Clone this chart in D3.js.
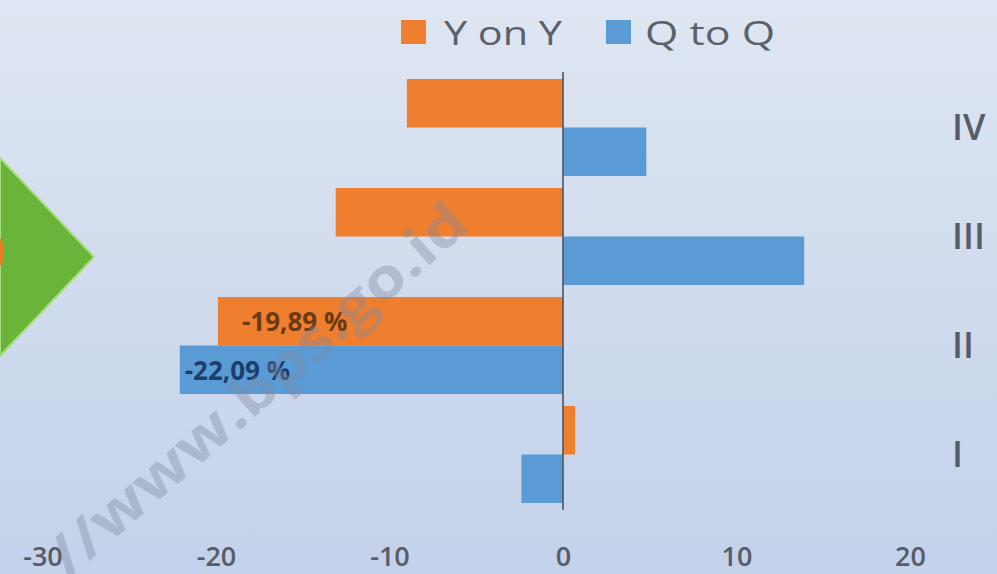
<!DOCTYPE html>
<html>
<head>
<meta charset="utf-8">
<script src="https://cdn.jsdelivr.net/npm/d3@7"></script>
<style>
  html, body { margin: 0; padding: 0; background: #d4ddee; }
  svg { display: block; }
</style>
</head>
<body>
<svg id="chart" width="997" height="574"></svg>
<script>
// Quarters, listed top to bottom as shown
const quarters = ["IV", "III", "II", "I"];
const seriesNames = ["Y on Y", "Q to Q"];
// Growth (%) per quarter
const yOnY = { "I": 0.7, "II": -19.89, "III": -13.1, "IV": -9.0 };
const qToQ = { "I": -2.4, "II": -22.09, "III": 13.9, "IV": 4.8 };
const xTicks = [-30, -20, -10, 0, 10, 20];
// Values that carry a printed label
const labelled = [
  { quarter: "II", series: "Y on Y", value: -19.89, text: "-19,89 %" },
  { quarter: "II", series: "Q to Q", value: -22.09, text: "-22,09 %" }
];

const colors = { "Y on Y": "#ef7f2f", "Q to Q": "#5a9bd6" };
const labelColors = { "Y on Y": "#6a3a12", "Q to Q": "#1d3d6a" };
const textGray = "#575d68";

const svg = d3.select("#chart");
const W = 997, H = 574;

// Soft blue backdrop
const defs = svg.append("defs");
const grad = defs.append("linearGradient").attr("id", "bg")
  .attr("x1", 0).attr("y1", 0).attr("x2", 0).attr("y2", 1);
grad.append("stop").attr("offset", "0%").attr("stop-color", "#dfe6f2");
grad.append("stop").attr("offset", "100%").attr("stop-color", "#c3d1ea");
svg.append("rect").attr("width", W).attr("height", H).attr("fill", "url(#bg)");

// Green arrow decoration at the left edge
svg.append("path")
  .attr("d", "M0,158 L94,257 L0,356 Z")
  .attr("fill", "#6ab43a")
  .attr("stroke", "#a6dd7e").attr("stroke-width", 2);
svg.append("circle").attr("cx", -24).attr("cy", 252).attr("r", 28).attr("fill", "#e97b28");

// Scales
const x = d3.scaleLinear().domain([-30, 20]).range([42.5, 910]);
const y = d3.scaleBand().domain(quarters).range([73, 509]).paddingInner(0.11).paddingOuter(0.055);
const ySub = d3.scaleBand().domain(seriesNames).range([0, y.bandwidth()]);

const rows = [];
quarters.forEach(q => {
  rows.push({ quarter: q, series: "Y on Y", value: yOnY[q] });
  rows.push({ quarter: q, series: "Q to Q", value: qToQ[q] });
});

// Bars
svg.append("g").selectAll("rect").data(rows).join("rect")
  .attr("x", d => x(Math.min(0, d.value)))
  .attr("y", d => y(d.quarter) + ySub(d.series))
  .attr("width", d => Math.abs(x(d.value) - x(0)))
  .attr("height", ySub.bandwidth())
  .attr("fill", d => colors[d.series]);

// Zero line
svg.append("line")
  .attr("x1", x(0)).attr("x2", x(0))
  .attr("y1", 72).attr("y2", 510)
  .attr("stroke", "#4b5566").attr("stroke-width", 1.6);

// Value labels
const labelOffset = { "Y on Y": 24, "Q to Q": 5 };
svg.append("g").selectAll("text").data(labelled).join("text")
  .attr("x", d => x(d.value) + labelOffset[d.series])
  .attr("y", d => y(d.quarter) + ySub(d.series) + ySub.bandwidth() / 2)
  .attr("dy", "0.38em")
  .attr("font-family", "'Open Sans', sans-serif")
  .attr("font-weight", 700)
  .attr("font-size", 26)
  .attr("fill", d => labelColors[d.series])
  .text(d => d.text);

// Bottom value axis
const xAxis = d3.axisBottom(x).tickValues(xTicks).tickSize(0).tickFormat(d => String(d));
const gx = svg.append("g").attr("transform", "translate(0,556)").call(xAxis);
gx.select(".domain").remove();
gx.selectAll("text")
  .attr("y", 0).attr("dy", "0.36em")
  .attr("font-family", "'Open Sans', sans-serif")
  .attr("font-weight", 600)
  .attr("font-size", 27)
  .attr("fill", textGray);

// Quarter labels on the right
const yAxis = d3.axisRight(y).tickSize(0).tickPadding(0);
const gy = svg.append("g").attr("transform", "translate(952,0)").call(yAxis);
gy.select(".domain").remove();
gy.selectAll("text")
  .attr("x", 0).attr("dy", "0.36em")
  .attr("text-anchor", "start")
  .attr("font-family", "'Open Sans', sans-serif")
  .attr("font-weight", 600)
  .attr("font-size", 36)
  .attr("fill", textGray);

// Legend
const legendItems = [
  { name: "Y on Y", sx: 401, tx: 444, w: 118 },
  { name: "Q to Q", sx: 606, tx: 645, w: 130 }
];
const lg = svg.append("g");
lg.selectAll("rect").data(legendItems).join("rect")
  .attr("x", d => d.sx).attr("y", 20).attr("width", 25).attr("height", 24)
  .attr("fill", d => colors[d.name]);
lg.selectAll("text").data(legendItems).join("text")
  .attr("x", d => d.tx).attr("y", 45)
  .attr("textLength", d => d.w).attr("lengthAdjust", "spacingAndGlyphs")
  .attr("font-family", "'Open Sans', sans-serif")
  .attr("font-size", 33)
  .attr("fill", "#5b616c")
  .text(d => d.name);

// Site watermark (the visible tail of the address)
svg.append("text")
  .attr("transform", "translate(472,228) rotate(-41)")
  .attr("text-anchor", "end")
  .attr("textLength", 535).attr("lengthAdjust", "spacingAndGlyphs")
  .attr("font-family", "'Open Sans', sans-serif")
  .attr("font-weight", 700)
  .attr("font-size", 56)
  .attr("fill", "#7f8aa0")
  .attr("fill-opacity", 0.38)
  .text("//www.bps.go.id");
</script>
</body>
</html>
